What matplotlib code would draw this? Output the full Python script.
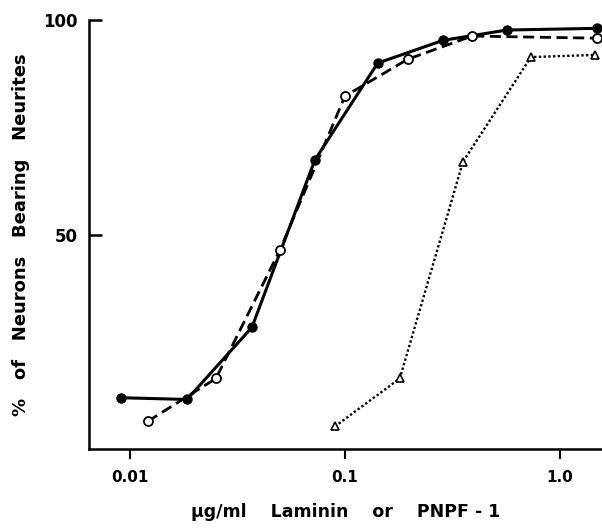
import matplotlib
matplotlib.use("Agg")
import matplotlib.pyplot as plt

# ============================
# DATA
# ============================

laminin_x = [0.0091, 0.0184, 0.0369, 0.0724, 0.142, 0.286, 0.566, 1.49]
laminin_y = [12.0, 11.6, 28.4, 67.4, 90.0, 95.3, 97.7, 98.1]

pnpf_x = [0.0121, 0.0251, 0.0499, 0.100, 0.196, 0.390, 1.49]
pnpf_y = [6.5, 16.5, 46.5, 82.3, 90.9, 96.3, 95.8]

third_x = [0.0898, 0.180, 0.354, 0.733, 1.455]
third_y = [5.3, 16.5, 67.0, 91.4, 91.9]

x_ticks = [0.01, 0.1, 1.0]
x_tick_labels = ["0.01", "0.1", "1.0"]
y_ticks = [50, 100]

# ============================
# PLOT CHART
# ============================

fig = plt.figure(figsize=(6.02, 5.31), dpi=100)
ax = fig.add_axes([0.148, 0.154, 0.852, 0.808])

ax.plot(laminin_x, laminin_y, color="black", lw=2.2, ls="-",
        marker="o", ms=6.5, mfc="black", mec="black", zorder=3)
ax.plot(pnpf_x, pnpf_y, color="black", lw=2.0, ls=(0, (4, 2)),
        marker="o", ms=6.5, mfc="white", mec="black", mew=1.3, zorder=4)
ax.plot(third_x, third_y, color="black", lw=1.7, ls=(0, (1, 1)),
        marker="^", ms=5.5, mfc="white", mec="black", mew=1.2, zorder=3)

ax.set_xscale("log")
ax.set_xlim(0.00645, 1.57)
ax.set_ylim(0, 100)

ax.set_xticks(x_ticks)
ax.set_xticklabels(x_tick_labels, fontsize=11, fontweight="bold")
ax.minorticks_off()
ax.set_yticks(y_ticks)
ax.set_yticklabels([str(v) for v in y_ticks], fontsize=12, fontweight="bold")

ax.tick_params(axis="x", direction="out", length=7, width=1.5, pad=8)
ax.tick_params(axis="y", direction="in", length=9, width=1.8, pad=8)

for side in ["top", "right"]:
    ax.spines[side].set_visible(False)
for side in ["left", "bottom"]:
    ax.spines[side].set_linewidth(1.8)

ax.set_ylabel("%   of   Neurons   Bearing   Neurites", fontsize=13,
              fontweight="bold")
ax.yaxis.set_label_coords(-0.115, 0.5)
ax.set_xlabel("\u00b5g/ml    Laminin    or    PNPF - 1", fontsize=12.5,
              fontweight="bold", labelpad=13)

# ============================
# SAVE RESULT
# ============================

fig.savefig("out.png", dpi=100)
